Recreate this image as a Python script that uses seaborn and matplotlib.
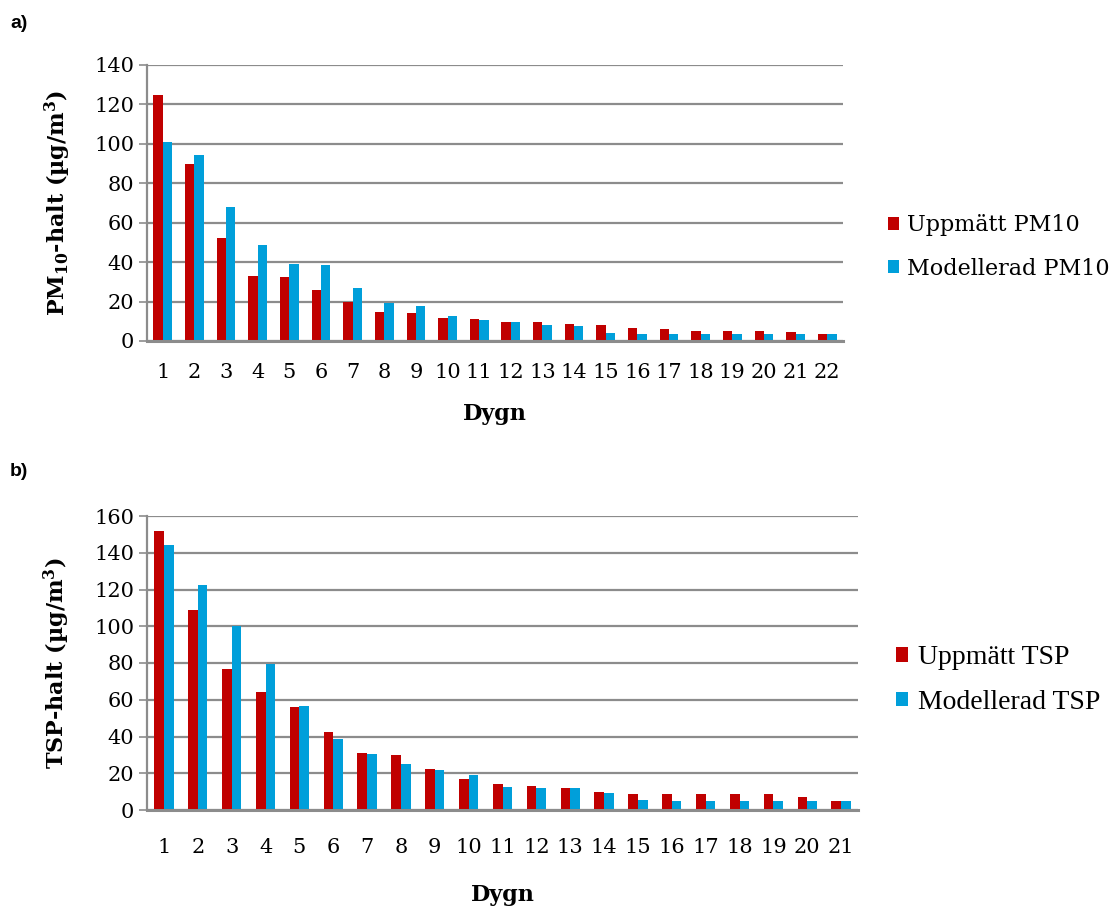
import matplotlib
matplotlib.use("Agg")
import matplotlib.pyplot as plt
from matplotlib.patches import Patch
import numpy as np
import pandas as pd
import seaborn as sns

# --- data -------------------------------------------------------------
dygn_pm = [str(i) for i in range(1, 23)]
uppmatt_pm10 = [125, 90, 52, 33, 32.5, 26, 19.7, 14.6, 14.2, 11.5, 11.4,
                9.8, 9.5, 8.5, 8.0, 6.6, 5.9, 5.1, 4.9, 4.9, 4.7, 3.4]
modellerad_pm10 = [101, 94.5, 68, 48.5, 39, 38.4, 26.8, 19.3, 17.8, 12.9, 10.7,
                   9.5, 8.0, 7.8, 3.9, 3.4, 3.4, 3.4, 3.4, 3.4, 3.4, 3.4]

dygn_tsp = [str(i) for i in range(1, 22)]
uppmatt_tsp = [152, 109, 76.7, 64.1, 56, 42.6, 31.1, 29.7, 22.3, 17.0, 14.1,
               13.2, 12.1, 9.9, 8.9, 8.9, 8.7, 8.7, 8.5, 6.9, 5.1]
modellerad_tsp = [144, 122.5, 100.3, 79.5, 56.5, 38.4, 30.6, 25.0, 21.7, 19.3, 12.7,
                  12.1, 11.8, 9.4, 5.6, 5.1, 4.9, 4.9, 4.9, 4.9, 5.1]

series_pm = ["Uppmätt PM10", "Modellerad PM10"]
series_tsp = ["Uppmätt TSP", "Modellerad TSP"]

RED = "#C00000"
BLUE = "#009FDA"
GRID = "#8C8C8C"

sns.set_theme(style="white")
plt.rcParams["font.family"] = ["DejaVu Serif"]
plt.rcParams["mathtext.fontset"] = "dejavuserif"
plt.rcParams["text.color"] = "black"

W, H = 1119, 909
fig = plt.figure(figsize=(W / 100, H / 100), dpi=100)


def px_axes(left, top, right, bottom):
    return fig.add_axes([left / W, 1 - bottom / H, (right - left) / W, (bottom - top) / H])


def long_frame(days, a, b, names):
    return pd.DataFrame({
        "Dygn": days * 2,
        "halt": list(a) + list(b),
        "serie": [names[0]] * len(days) + [names[1]] * len(days),
    })


def draw_panel(ax, df, days, names, ymax, width, tick_pad, xlabel_y, ylabel,
               legend_font, legend_xy, legend_spacing, handle_size):
    sns.barplot(data=df, x="Dygn", y="halt", hue="serie", order=days,
                hue_order=names, palette=[RED, BLUE], width=width,
                saturation=1, ax=ax, legend=False, linewidth=0)
    ax.set_ylim(0, ymax)
    ax.set_yticks(np.arange(0, ymax + 1, 20))
    ax.set_axisbelow(True)
    ax.yaxis.grid(True, color=GRID, linewidth=1.6)
    ax.xaxis.grid(False)
    for side in ("top", "right"):
        ax.spines[side].set_visible(False)
    ax.spines["left"].set_color(GRID)
    ax.spines["left"].set_linewidth(1.6)
    ax.spines["bottom"].set_color(GRID)
    ax.spines["bottom"].set_linewidth(2.2)
    ax.tick_params(axis="y", which="major", left=True, length=6, width=1.2,
                   color=GRID, labelsize=15, pad=3, labelcolor="black")
    ax.tick_params(axis="x", bottom=False, labelsize=15, pad=tick_pad,
                   labelcolor="black")
    ax.set_xlabel("Dygn", fontsize=16, fontweight="bold", color="black")
    ax.xaxis.set_label_coords(0.5, xlabel_y)
    ax.set_ylabel(ylabel, fontsize=16, fontweight="bold", color="black")
    ax.yaxis.set_label_coords(-0.106, 0.5)
    handles = [Patch(facecolor=RED, edgecolor="none"),
               Patch(facecolor=BLUE, edgecolor="none")]
    fig.legend(handles, names, loc="center left",
               bbox_to_anchor=(legend_xy[0] / W, 1 - legend_xy[1] / H),
               frameon=False, handlelength=handle_size, handleheight=handle_size,
               handletextpad=0.35, labelspacing=legend_spacing,
               prop=legend_font, labelcolor="black")


# a) PM10
ax1 = px_axes(147, 65, 843, 341)
draw_panel(ax1, long_frame(dygn_pm, uppmatt_pm10, modellerad_pm10, series_pm),
           dygn_pm, series_pm, 140, 0.59, 10, -0.225,
           r"PM$_{\mathbf{10}}$-halt (µg/m$^{\mathbf{3}}$)",
           {"family": "DejaVu Serif", "size": 16}, (868, 247), 0.95, 0.5)

# b) TSP
ax2 = px_axes(147, 516, 858, 810)
draw_panel(ax2, long_frame(dygn_tsp, uppmatt_tsp, modellerad_tsp, series_tsp),
           dygn_tsp, series_tsp, 160, 0.57, 14, -0.25,
           r"TSP-halt (µg/m$^{\mathbf{3}}$)",
           {"family": "Liberation Serif", "size": 20}, (871, 680), 0.7, 0.43)

fig.text(10 / W, 1 - 24 / H, "a)", fontsize=14, fontweight="bold",
         family="Liberation Sans", va="center", color="black")
fig.text(10 / W, 1 - 472 / H, "b)", fontsize=14, fontweight="bold",
         family="Liberation Sans", va="center", color="black")

fig.savefig("out.png", dpi=100)
